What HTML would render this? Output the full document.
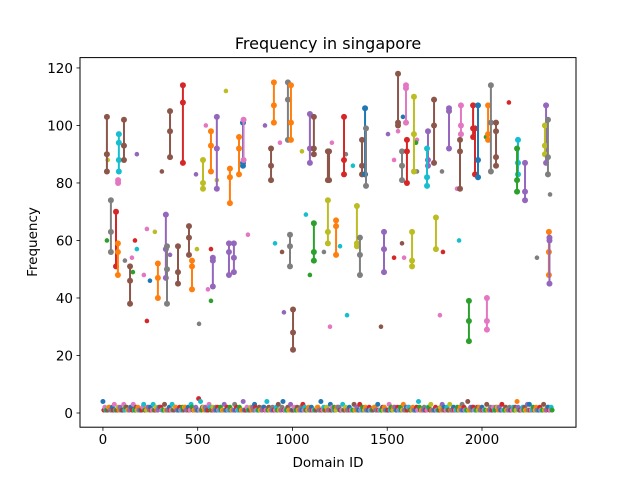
<!DOCTYPE html>
<html><head><meta charset="utf-8"><style>
html,body{margin:0;padding:0;background:#fff}
svg{display:block;font-family:"DejaVu Sans","Liberation Sans",sans-serif}
</style></head><body>
<svg id="chart" width="640" height="480" viewBox="0 0 640 480">
<rect x="0" y="0" width="640" height="480" fill="#fff"/>
<text x="328" y="49" text-anchor="middle" font-size="16" fill="#000">Frequency in singapore</text>
<g id="marks"></g>
<g id="axes"></g>
<text x="328" y="467" text-anchor="middle" font-size="13.5" fill="#000">Domain ID</text>
<text x="0" y="0" transform="translate(37,242) rotate(-90)" text-anchor="middle" font-size="13.5" fill="#000">Frequency</text>
</svg>
<script>
const palette = ['#1f77b4','#ff7f0e','#2ca02c','#d62728','#9467bd','#8c564b','#e377c2','#7f7f7f','#bcbd22','#17becf'];
const xTicks = [0,500,1000,1500,2000];
const yTicks = [0,20,40,60,80,100,120];
// connected groups: domain id, color index, frequencies
const groupX = [21,84,111,354,422,528,570,601,670,718,739,742,902,976,992,887,1092,1113,1187,
  42,69,79,143,290,332,338,396,454,470,580,665,691,987,1003,1113,1187,
  1193,1272,1367,1383,1388,1557,1599,1578,1604,1641,1715,1710,1747,1826,1889,1884,1953,1963,1979,2032,2047,2074,2190,2185,2227,2338,2332,2348,
  1230,1340,1356,1483,1631,1757,2353,2356,1931,2026,80];
const groupC = [5,9,5,5,3,8,1,4,1,1,0,6,1,7,1,5,4,5,5,
  7,3,1,5,1,4,7,5,5,1,4,4,4,7,5,2,8,
  5,3,5,0,7,5,6,7,3,8,4,9,5,4,6,5,3,3,0,1,7,5,9,2,4,4,8,7,
  1,8,7,4,8,8,1,4,2,6,6];
const groupY = [[103,90,84],[97,94,88,84],[102,93,88],[105,98,89],[114,108,87],[88,80,78],[98,93,84],[103,92,78],[85,82,73],[96,92,83],[101,87,86],[102,88],[115,107,101],[115,109,95],[114,101,95],[92,86,81],[104,92,87],[103,92,90],[91,81],
  [74,63,56],[70,51],[59,56,48],[51,46,38],[52,47,40],[69,57,47],[58,50,38],[58,49,45],[65,61,55],[53,51,43],[54,53,44],[59,56,48],[59,54,49],[62,58,51],[36,28,22],[66,56,53],[74,63,59],
  [91,81],[103,88,83],[95,86,83],[106,83],[99,79],[118,101,100],[114,113,101],[91,86,81],[95,91,80],[110,97,84],[98,88,86],[92,82,79],[109,100,87],[106,105,92],[107,100,97],[95,91,78],[107,99,96],[99,83],[107,88,82],[107,97,95],[114,101,84],[101,98,89,86],[95,87,83],[92,81,77],[87,77,74],[107,87],[100,93,90],[102,89,83],
  [67,65,55],[72,59,58],[61,55,48],[63,57,49],[63,53,51],[68,57],[63,56,48],[61,60,45],[39,32,25],[40,32,29],[81,80]];
// isolated points
const dotX = [17,25,179,311,543,649,491,601,855,934,1050,884,21,169,179,116,153,158,216,248,232,232,274,354,496,507,570,570,554,765,908,945,955,1092,1071,1166,1198,
  1208,1282,1319,1504,1536,1557,1583,1657,1652,1657,1789,1868,2021,2142,2359,1251,1578,1589,1536,1794,1879,2290,1288,1467,1778];
const dotY = [90,88,90,84,100,112,83,81,100,94,91,81,60,60,57,53,54,49,48,46,32,64,63,55,57,31,57,39,43,62,59,56,35,48,69,56,30,
  94,90,86,97,88,98,103,95,94,84,84,78,96,108,76,58,59,54,54,56,60,54,34,30,34];
const dotC = [7,8,4,5,6,8,4,8,4,6,8,9,2,3,9,7,6,2,6,0,3,6,8,4,8,7,3,2,6,6,9,5,4,2,9,7,6,
  6,7,9,4,6,6,0,6,2,7,7,6,2,3,7,9,5,6,3,3,9,7,9,5,6];
// near-zero frequencies, one per domain id step of 5 (digit = frequency)
const lowVals = "4121112211213111212111312211122131121211112311122121131121122211131111211311221112112122112113211121151412212111321121121211211131121121111312112111411121112121321112111221141211121112131112411112113111211211121312111211211111221141121121113121211222111311211121111311211311211211121111221131111212111131211221121121131121221112111214211112111221311112111121312112113111211121121312111411212211121211211113111211211221211311121112111212142111121211313111211211121113111221121";
const lowStep = 5;

const L=80,R=576,T=57.6,B=427.2;
const xMin=-121,xMax=2496,yMin=-4.94,yMax=123.6;
const sx=v=>L+(v-xMin)/(xMax-xMin)*(R-L);
const sy=v=>B-(v-yMin)/(yMax-yMin)*(B-T);
const NS='http://www.w3.org/2000/svg';
const marks=document.getElementById('marks');
const axes=document.getElementById('axes');
function mk(tag,attrs,parent){const e=document.createElementNS(NS,tag);for(const k in attrs)e.setAttribute(k,attrs[k]);parent.appendChild(e);return e;}

for(let i=0;i<lowVals.length;i++){
  const c=mk('circle',{cx:sx(i*lowStep),cy:sy(+lowVals[i]),r:2.5,fill:palette[(i*3)%10]},marks);
  
  
}
for(let i=0;i<dotX.length;i++){
  const c=mk('circle',{cx:sx(dotX[i]),cy:sy(dotY[i]),r:2.3,fill:palette[dotC[i]]},marks);
  
  
}
for(let i=0;i<groupX.length;i++){
  const g=mk('g',{},marks);
  
  
  const ys=groupY[i],col=palette[groupC[i]],x=sx(groupX[i]);
  const ln=mk('line',{x1:x,x2:x,y1:sy(Math.max(...ys)),y2:sy(Math.min(...ys)),stroke:col,'stroke-width':2},g);
  
  
  ys.forEach(v=>{
    const c=mk('circle',{cx:x,cy:sy(v),r:3,fill:col},g);
    
    
  });
}
const frame=mk('rect',{x:L,y:T,width:R-L,height:B-T,fill:'none',stroke:'#000','stroke-width':1},axes);


xTicks.forEach(t=>{
  const x=sx(t);
  const tk=mk('line',{x1:x,x2:x,y1:B,y2:B+3.5,stroke:'#000','stroke-width':0.8},axes);
  
  
  const tx=mk('text',{x:x,y:B+17,'text-anchor':'middle','font-size':13.5,fill:'#000'},axes);
  tx.textContent=t;
  
  
});
yTicks.forEach(t=>{
  const y=sy(t);
  const tk=mk('line',{x1:L-3.5,x2:L,y1:y,y2:y,stroke:'#000','stroke-width':0.8},axes);
  
  
  const tx=mk('text',{x:L-7,y:y+5,'text-anchor':'end','font-size':13.5,fill:'#000'},axes);
  tx.textContent=t;
  
  
});
</script>
</body></html>
